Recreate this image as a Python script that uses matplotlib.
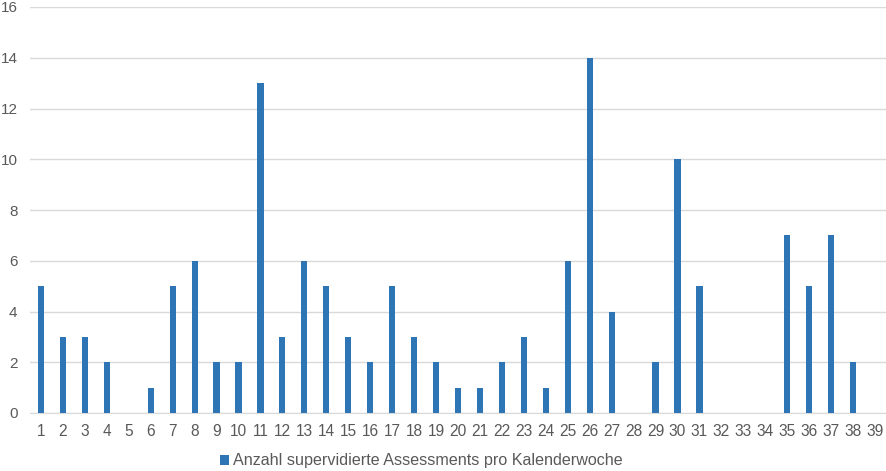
import numpy as np
import matplotlib.pyplot as plt

weeks = [str(i) for i in range(1, 40)]
counts = [5, 3, 3, 2, 0, 1, 5, 6, 2, 2, 13, 3, 6, 5, 3, 2, 5, 3, 2, 1,
          1, 2, 3, 1, 6, 14, 4, 0, 2, 10, 5, 0, 0, 0, 7, 5, 7, 2, 0]
label = 'Anzahl supervidierte Assessments pro Kalenderwoche'

plt.rcParams['font.family'] = ['Liberation Sans', 'DejaVu Sans']

fig = plt.figure(figsize=(8.87, 4.71), dpi=100)
ax = fig.add_axes([30/887, 58/471, 856/887, 406/471])

x = np.arange(len(weeks))
ax.bar(x, counts, width=0.28, color='#2E75B6', label=label, zorder=3)

ax.set_xlim(-0.5, len(weeks) - 0.5)
ax.set_ylim(0, 16)
ax.set_yticks(range(0, 17, 2))
ax.set_xticks(x)
ax.set_xticklabels(weeks)
ax.grid(axis='y', color='#D9D9D9', linewidth=1, zorder=0)
for s in ['top', 'right', 'left']:
    ax.spines[s].set_visible(False)
ax.spines['bottom'].set_color('#D9D9D9')
ax.tick_params(axis='both', length=0, labelsize=11.2, colors='#595959')
ax.tick_params(axis='x', pad=8)
ax.tick_params(axis='y', pad=9, labelsize=11)

fig.legend(loc='center', bbox_to_anchor=(421/887, 1 - 461/471), frameon=False,
           fontsize=11.6, handlelength=0.55, handleheight=0.55, handletextpad=0.25,
           labelcolor='#595959')

fig.savefig('out.png', dpi=100)
